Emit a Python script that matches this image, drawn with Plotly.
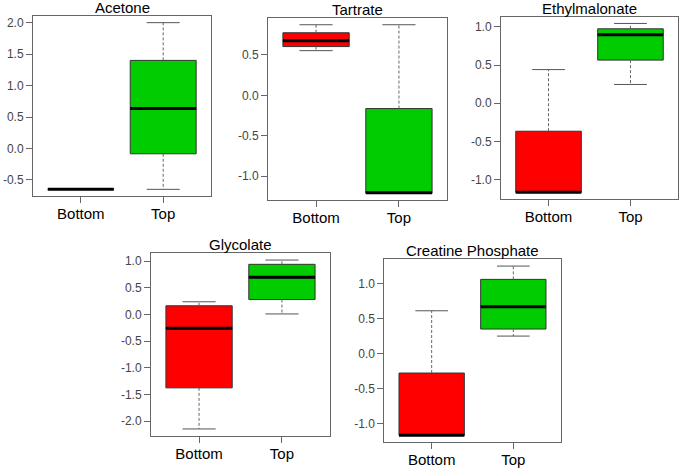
import numpy as np
import plotly.graph_objects as go

metabolites = ["Acetone", "Tartrate", "Ethylmalonate", "Glycolate", "Creatine Phosphate"]
groups = ["Bottom", "Top"]
group_pos = [1, 2]
group_colors = ["#FF0000", "#00CC00"]

# Five-number summaries (lower whisker, Q1, median, Q3, upper whisker) per metabolite
bottom_lower = [-0.65, 0.553, -1.17, -2.145, -1.165]
bottom_q1 = [-0.65, 0.603, -1.17, -1.375, -1.165]
bottom_median = [-0.65, 0.674, -1.165, -0.257, -1.16]
bottom_q3 = [-0.65, 0.774, -0.367, 0.163, -0.276]
bottom_upper = [-0.65, 0.873, 0.44, 0.238, 0.61]

top_lower = [-0.65, -1.21, 0.245, 0.01, 0.25]
top_q1 = [-0.085, -1.21, 0.564, 0.28, 0.35]
top_median = [0.635, -1.205, 0.895, 0.70, 0.667]
top_q3 = [1.40, -0.163, 0.974, 0.94, 1.057]
top_upper = [2.0, 0.873, 1.044, 1.02, 1.246]

W, H = 684, 470
# panel frames in pixels: (left, right, top, bottom)
frames = [
    (33, 211, 16, 196),
    (268, 447, 18, 200),
    (501, 678, 16.7, 199.3),
    (151, 330, 253.3, 435.7),
    (384.3, 560.7, 259.3, 442.3),
]

FONT = "Liberation Sans, Arial, Helvetica, sans-serif"
BOXW = 0.8
STAPLE = 0.4

fig = go.Figure()
layout_axes = {}
annotations = []

for i, name in enumerate(metabolites):
    xa = "x" if i == 0 else f"x{i+1}"
    ya = "y" if i == 0 else f"y{i+1}"
    stats = [
        (bottom_lower[i], bottom_q1[i], bottom_median[i], bottom_q3[i], bottom_upper[i]),
        (top_lower[i], top_q1[i], top_median[i], top_q3[i], top_upper[i]),
    ]
    for pos, col, (lo, q1, med, q3, up) in zip(group_pos, group_colors, stats):
        # dashed whiskers
        fig.add_trace(go.Scatter(
            x=[pos, pos, None, pos, pos], y=[q3, up, None, q1, lo],
            mode="lines", line=dict(color="#666666", width=1, dash="3px,2px"),
            xaxis=xa, yaxis=ya, showlegend=False, hoverinfo="skip"))
        # staples
        fig.add_trace(go.Scatter(
            x=[pos - STAPLE / 2, pos + STAPLE / 2, None, pos - STAPLE / 2, pos + STAPLE / 2],
            y=[up, up, None, lo, lo],
            mode="lines", line=dict(color="#555555", width=1),
            xaxis=xa, yaxis=ya, showlegend=False, hoverinfo="skip"))
        # box
        fig.add_trace(go.Box(
            x=[pos], q1=[q1], median=[med], q3=[q3], lowerfence=[q1], upperfence=[q3],
            width=BOXW, fillcolor=col, line=dict(color="#333333", width=1),
            whiskerwidth=0, boxpoints=False, xaxis=xa, yaxis=ya,
            showlegend=False, hoverinfo="skip"))
        # thick median
        fig.add_trace(go.Scatter(
            x=[pos - BOXW / 2, pos + BOXW / 2], y=[med, med],
            mode="lines", line=dict(color="#000000", width=3),
            xaxis=xa, yaxis=ya, showlegend=False, hoverinfo="skip"))

    vals = [v for s in stats for v in s]
    vmin, vmax = min(vals), max(vals)
    d = vmax - vmin
    yr = [vmin - 0.04 * d, vmax + 0.04 * d]
    tv = np.arange(np.ceil(yr[0] / 0.5) * 0.5, yr[1] + 1e-9, 0.5)
    tt = [f"{v:.1f}" for v in tv]

    l, r, t, b = frames[i]
    xkey = "xaxis" if i == 0 else f"xaxis{i+1}"
    ykey = "yaxis" if i == 0 else f"yaxis{i+1}"
    layout_axes[xkey] = dict(
        domain=[l / W, r / W], anchor=ya, range=[0.42, 2.58],
        tickvals=group_pos, ticktext=groups, ticks="outside", ticklen=6,
        tickcolor="#666666", showline=True, mirror=True, linecolor="#666666",
        linewidth=1, showgrid=False, zeroline=False, ticklabelstandoff=-2,
        tickfont=dict(family=FONT, size=15, color="#000000"), fixedrange=True)
    layout_axes[ykey] = dict(
        domain=[1 - b / H, 1 - t / H], anchor=xa, range=yr,
        tickvals=list(tv), ticktext=tt, ticks="outside", ticklen=6,
        tickcolor="#666666", showline=True, mirror=True, linecolor="#666666",
        linewidth=1, showgrid=False, zeroline=False,
        tickfont=dict(family=FONT, size=12, color="#444444"), fixedrange=True)
    annotations.append(dict(
        text=name, x=(l + r) / 2 / W, y=1 - (t - 8.5) / H, xref="paper", yref="paper",
        xanchor="center", yanchor="middle", showarrow=False,
        font=dict(family=FONT, size=15, color="#000000")))

fig.update_layout(
    width=W, height=H, margin=dict(l=0, r=0, t=0, b=0),
    paper_bgcolor="white", plot_bgcolor="white", boxmode="overlay",
    showlegend=False, annotations=annotations, **layout_axes)

fig.write_html("out.html", config={"displayModeBar": False},
               post_script="document.body.style.margin='0';")
